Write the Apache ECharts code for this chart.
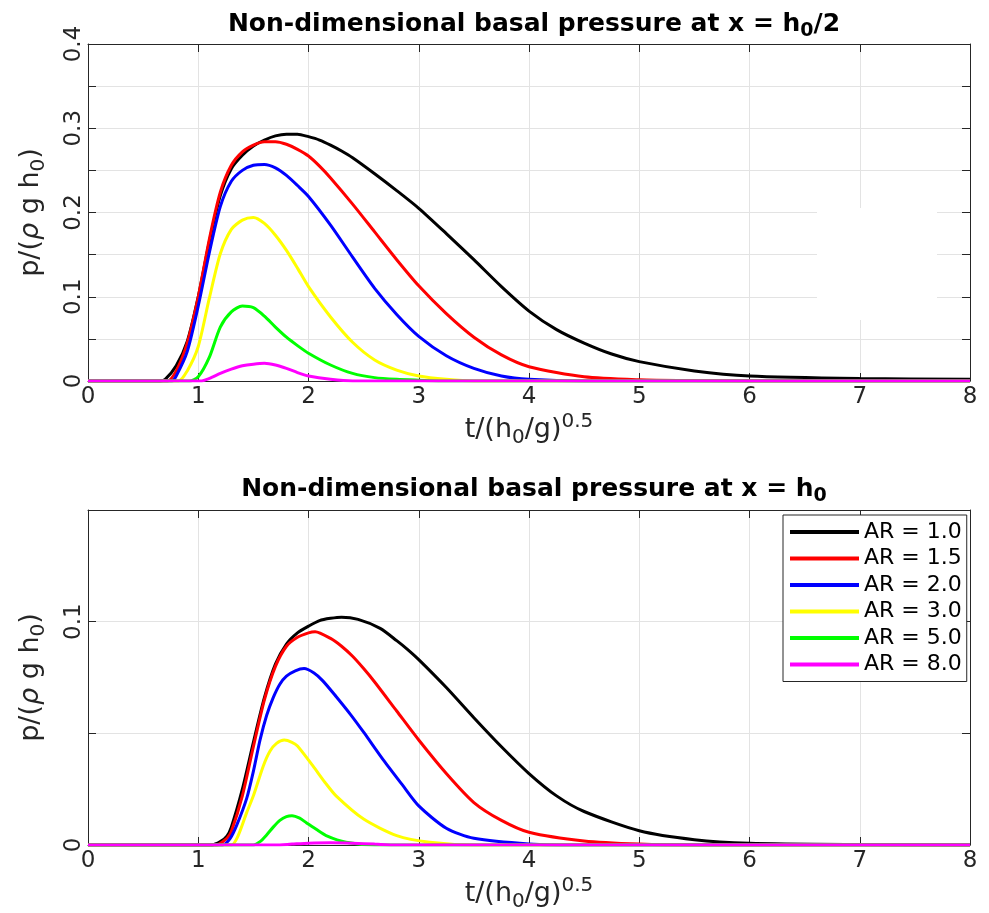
<!DOCTYPE html>
<html>
<head>
<meta charset="utf-8">
<style>
  html, body { margin: 0; padding: 0; background: #fff; }
  #main { width: 989px; height: 913px; }
</style>
</head>
<body>
<div id="main"></div>
<script src="https://cdn.jsdelivr.net/npm/echarts@6/dist/echarts.min.js"></script>
<script type="text/javascript">
// series names and colours
var names = ['AR = 1.0', 'AR = 1.5', 'AR = 2.0', 'AR = 3.0', 'AR = 5.0', 'AR = 8.0'];
var colors = ['#000000', '#ff0000', '#0000ff', '#ffff00', '#00ff00', '#ff00ff'];

// top plot, x = h0/2 : [t, p]
var top10 = [[0,0],[0.65,0],[0.7,0.002],[0.8,0.018],[0.9,0.047],[1.0,0.100],[1.1,0.165],[1.2,0.220],[1.3,0.252],[1.4,0.268],[1.5,0.279],[1.6,0.286],[1.7,0.291],[1.8,0.293],[1.9,0.293],[2.0,0.290],[2.1,0.286],[2.2,0.280],[2.3,0.273],[2.4,0.265],[2.6,0.246],[2.8,0.226],[3.0,0.205],[3.25,0.175],[3.5,0.144],[3.75,0.112],[4.0,0.083],[4.25,0.061],[4.5,0.045],[4.75,0.032],[5.0,0.023],[5.5,0.012],[6.0,0.006],[7.0,0.003],[8.0,0.002]];
var top15 = [[0,0],[0.72,0],[0.8,0.012],[0.9,0.045],[1.0,0.100],[1.1,0.168],[1.2,0.224],[1.3,0.256],[1.4,0.272],[1.5,0.280],[1.6,0.284],[1.7,0.284],[1.8,0.281],[1.9,0.275],[2.0,0.267],[2.1,0.255],[2.2,0.241],[2.4,0.210],[2.6,0.177],[2.8,0.144],[3.0,0.113],[3.25,0.080],[3.5,0.052],[3.75,0.031],[4.0,0.017],[4.5,0.005],[5.0,0.0015],[5.5,0.0005],[6.0,0],[8.0,0]];
var top20 = [[0,0],[0.76,0],[0.8,0.006],[0.9,0.035],[1.0,0.089],[1.1,0.152],[1.2,0.207],[1.3,0.237],[1.4,0.250],[1.5,0.256],[1.6,0.257],[1.7,0.253],[1.8,0.244],[1.9,0.232],[2.0,0.219],[2.2,0.185],[2.4,0.147],[2.6,0.110],[2.8,0.079],[3.0,0.053],[3.25,0.030],[3.5,0.015],[3.75,0.006],[4.0,0.002],[4.5,0],[8.0,0]];
var top30 = [[0,0],[0.82,0],[0.9,0.012],[1.0,0.041],[1.1,0.098],[1.2,0.151],[1.3,0.180],[1.4,0.191],[1.5,0.194],[1.6,0.187],[1.7,0.173],[1.8,0.155],[1.9,0.134],[2.0,0.112],[2.2,0.076],[2.4,0.046],[2.6,0.025],[2.8,0.013],[3.0,0.006],[3.25,0.002],[3.5,0],[8.0,0]];
var top50 = [[0,0],[0.92,0],[1.0,0.005],[1.1,0.028],[1.2,0.064],[1.3,0.082],[1.4,0.089],[1.5,0.087],[1.6,0.077],[1.7,0.064],[1.8,0.052],[1.9,0.042],[2.0,0.033],[2.2,0.019],[2.4,0.009],[2.6,0.004],[2.8,0.002],[3.0,0.001],[3.25,0],[8.0,0]];
var top80 = [[0,0],[1.02,0],[1.1,0.003],[1.2,0.009],[1.3,0.014],[1.4,0.018],[1.5,0.020],[1.6,0.021],[1.7,0.019],[1.8,0.015],[1.9,0.010],[2.0,0.006],[2.2,0.002],[2.4,0],[8.0,0]];

// bottom plot, x = h0 : [t, p]
var bot10 = [[0,0],[1.12,0],[1.2,0.0015],[1.26,0.004],[1.3,0.008],[1.4,0.025],[1.5,0.046],[1.6,0.066],[1.7,0.081],[1.8,0.090],[1.9,0.095],[2.0,0.098],[2.1,0.1005],[2.2,0.1015],[2.3,0.102],[2.45,0.101],[2.65,0.097],[2.8,0.0915],[2.9,0.0875],[3.0,0.083],[3.25,0.0705],[3.5,0.057],[3.75,0.044],[4.0,0.032],[4.25,0.022],[4.5,0.015],[5.0,0.0064],[5.5,0.0024],[6.0,0.0008],[7.0,0.0002],[8.0,0]];
var bot15 = [[0,0],[1.16,0],[1.26,0.003],[1.3,0.006],[1.4,0.022],[1.5,0.044],[1.6,0.065],[1.7,0.080],[1.8,0.089],[1.9,0.093],[2.0,0.095],[2.06,0.0955],[2.2,0.0925],[2.3,0.089],[2.4,0.0845],[2.5,0.079],[2.6,0.073],[2.8,0.060],[3.0,0.047],[3.25,0.032],[3.5,0.019],[3.75,0.011],[4.0,0.0057],[4.5,0.0018],[5.0,0.0004],[5.5,0],[8.0,0]];
var bot20 = [[0,0],[1.22,0],[1.29,0.003],[1.35,0.009],[1.44,0.021],[1.5,0.033],[1.56,0.047],[1.62,0.058],[1.68,0.066],[1.74,0.072],[1.8,0.0756],[1.88,0.078],[1.96,0.079],[2.05,0.077],[2.13,0.0735],[2.25,0.0665],[2.38,0.0585],[2.5,0.0505],[2.68,0.038],[2.85,0.027],[3.0,0.0175],[3.25,0.0075],[3.5,0.003],[4.0,0.0005],[4.5,0],[8.0,0]];
var bot30 = [[0,0],[1.3,0],[1.36,0.004],[1.44,0.0146],[1.5,0.022],[1.59,0.0354],[1.65,0.042],[1.71,0.0455],[1.78,0.047],[1.85,0.046],[1.9,0.0443],[2.04,0.0354],[2.15,0.028],[2.25,0.022],[2.5,0.0116],[2.8,0.0042],[3.1,0.0012],[3.5,0],[8.0,0]];
var bot50 = [[0,0],[1.5,0],[1.56,0.0015],[1.62,0.0045],[1.68,0.008],[1.74,0.011],[1.8,0.0127],[1.85,0.0131],[1.92,0.012],[1.98,0.010],[2.07,0.007],[2.16,0.0042],[2.34,0.0012],[2.6,0],[8.0,0]];
var bot80 = [[0,0],[1.7,0],[1.85,0.0004],[2.0,0.0008],[2.2,0.001],[2.4,0.0008],[2.6,0.0004],[2.8,0],[8.0,0]];

var topData = [top10, top15, top20, top30, top50, top80];
var botData = [bot10, bot15, bot20, bot30, bot50, bot80];

var FONT = 'DejaVu Sans';
var AXC = '#262626';

var chart = echarts.init(document.getElementById('main'));

function yLabel(v) {
    var r = Math.round(v * 100);
    return r % 10 === 0 ? String(r / 100) : '';
}

var xName = '{n|t/(h}{s|0}{n|/g)}{p|0.5}';
var yName = '{n|p/(}{i|ρ}{n| g h}{s|0}{n|)}';
var nameRich = {
    n: { fontFamily: FONT, fontSize: 27, color: AXC },
    i: { fontFamily: FONT, fontSize: 27, color: AXC, fontStyle: 'italic' },
    s: { fontFamily: FONT, fontSize: 20, color: AXC, padding: [16, 0, 0, 0] },
    p: { fontFamily: FONT, fontSize: 20, color: AXC, padding: [0, 0, 16, 0] }
};

function mainX(grid) {
    return {
        gridIndex: grid, type: 'value', min: 0, max: 8, interval: 1,
        name: xName, nameLocation: 'middle', nameGap: 31, nameMoveOverlap: false,
        nameTextStyle: { rich: nameRich },
        axisLine: { show: true, onZero: false, lineStyle: { color: AXC, width: 1 } },
        axisTick: { inside: true, length: 8, lineStyle: { color: AXC } },
        axisLabel: { fontFamily: FONT, fontSize: 23, color: AXC, margin: 5 },
        splitLine: { show: true, lineStyle: { color: '#e3e3e3', width: 1 } }
    };
}
function boxX(grid) {
    return {
        gridIndex: grid, type: 'value', min: 0, max: 8, interval: 1, position: 'top',
        axisLine: { show: true, onZero: false, lineStyle: { color: AXC, width: 1 } },
        axisTick: { inside: true, length: 8, lineStyle: { color: AXC } },
        axisLabel: { show: false }, splitLine: { show: false }
    };
}
function mainY(grid, max) {
    return {
        gridIndex: grid, type: 'value', min: 0, max: max, interval: 0.05,
        name: yName, nameLocation: 'middle', nameGap: 39,
        nameTextStyle: { rich: nameRich },
        axisLine: { show: true, onZero: false, lineStyle: { color: AXC, width: 1 } },
        axisTick: { inside: true, length: 8, lineStyle: { color: AXC } },
        axisLabel: { fontFamily: FONT, fontSize: 23, color: AXC, rotate: 90, margin: 2, formatter: yLabel },
        splitLine: { show: true, lineStyle: { color: '#e3e3e3', width: 1 } }
    };
}
function boxY(grid, max) {
    return {
        gridIndex: grid, type: 'value', min: 0, max: max, interval: 0.05, position: 'right',
        axisLine: { show: true, onZero: false, lineStyle: { color: AXC, width: 1 } },
        axisTick: { inside: true, length: 8, lineStyle: { color: AXC } },
        axisLabel: { show: false }, splitLine: { show: false }
    };
}

var series = [];
for (var i = 0; i < names.length; i++) {
    series.push({
        name: names[i], type: 'line', xAxisIndex: 0, yAxisIndex: 0,
        data: topData[i], showSymbol: false, smooth: 0.25,
        lineStyle: { color: colors[i], width: 3 }, itemStyle: { color: colors[i] }
    });
}
for (var j = 0; j < names.length; j++) {
    series.push({
        name: names[j], type: 'line', xAxisIndex: 2, yAxisIndex: 2,
        data: botData[j], showSymbol: false, smooth: 0.25,
        lineStyle: { color: colors[j], width: 3 }, itemStyle: { color: colors[j] }
    });
}

var titleRich = {
    b: { fontFamily: FONT, fontSize: 25, fontWeight: 'bold', color: '#000' },
    s: { fontFamily: FONT, fontSize: 19, fontWeight: 'bold', color: '#000', padding: [15, 0, 0, 0] }
};

var option = {
    animation: false,
    backgroundColor: '#fff',
    title: [
        { text: '{b|Non-dimensional basal pressure at x = h}{s|0}{b|/2}', left: 529, textAlign: 'center', top: 2,
          textStyle: { rich: titleRich } },
        { text: '{b|Non-dimensional basal pressure at x = h}{s|0}', left: 529, textAlign: 'center', top: 467,
          textStyle: { rich: titleRich } }
    ],
    legend: {
        data: names, orient: 'vertical', left: 783, top: 515,
        padding: [6, 5, 6, 7], itemGap: 4.5, itemWidth: 69, itemHeight: 4, icon: 'rect',
        borderColor: AXC, borderWidth: 1, backgroundColor: '#fff',
        textStyle: { fontFamily: FONT, fontSize: 22, color: '#000', lineHeight: 22 }
    },
    grid: [
        { left: 88, right: 19, top: 44, height: 337 },
        { left: 88, right: 19, top: 510, height: 336 }
    ],
    xAxis: [mainX(0), boxX(0), mainX(1), boxX(1)],
    yAxis: [mainY(0, 0.4), boxY(0, 0.4), mainY(1, 0.15), boxY(1, 0.15)],
    graphic: [
        { type: 'rect', shape: { x: 817, y: 208, width: 120, height: 112 }, style: { fill: '#fff' }, z: 5 }
    ],
    series: series
};

chart.setOption(option);
</script>
</body>
</html>
